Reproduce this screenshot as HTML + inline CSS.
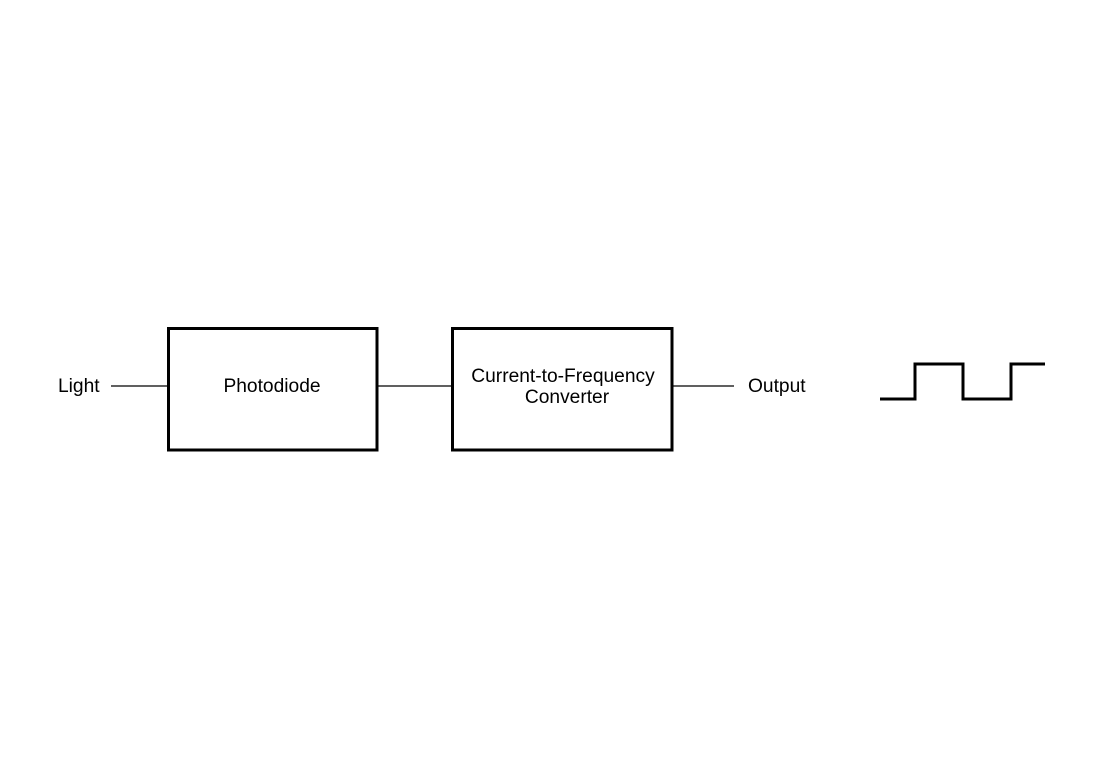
<!DOCTYPE html>
<html><head><style>body{margin:0;background:#fff}</style></head><body>
<svg width="1100" height="778" xmlns="http://www.w3.org/2000/svg" style="display:block">
<rect width="1100" height="778" fill="#fff"/>
<g font-family="Liberation Sans, Arial, sans-serif" font-size="19.2" fill="#000">
<text x="58" y="392">Light</text>
<text x="272" y="392" text-anchor="middle">Photodiode</text>
<text x="563" y="382" text-anchor="middle">Current-to-Frequency</text>
<text x="567" y="403" text-anchor="middle">Converter</text>
<text x="748" y="392">Output</text>
</g>
<g stroke="#000" fill="none">
<line x1="111" y1="386" x2="168" y2="386" stroke-width="1.2"/>
<line x1="377" y1="386" x2="452" y2="386" stroke-width="1.2"/>
<line x1="672" y1="386" x2="734" y2="386" stroke-width="1.2"/>
<rect x="168.5" y="328.5" width="208.5" height="121.5" stroke-width="3"/>
<rect x="452.5" y="328.5" width="219.5" height="121.5" stroke-width="3"/>
<polyline points="880,399 915,399 915,364 963,364 963,399 1011,399 1011,364 1045,364" stroke-width="3"/>
</g>
</svg>
</body></html>
